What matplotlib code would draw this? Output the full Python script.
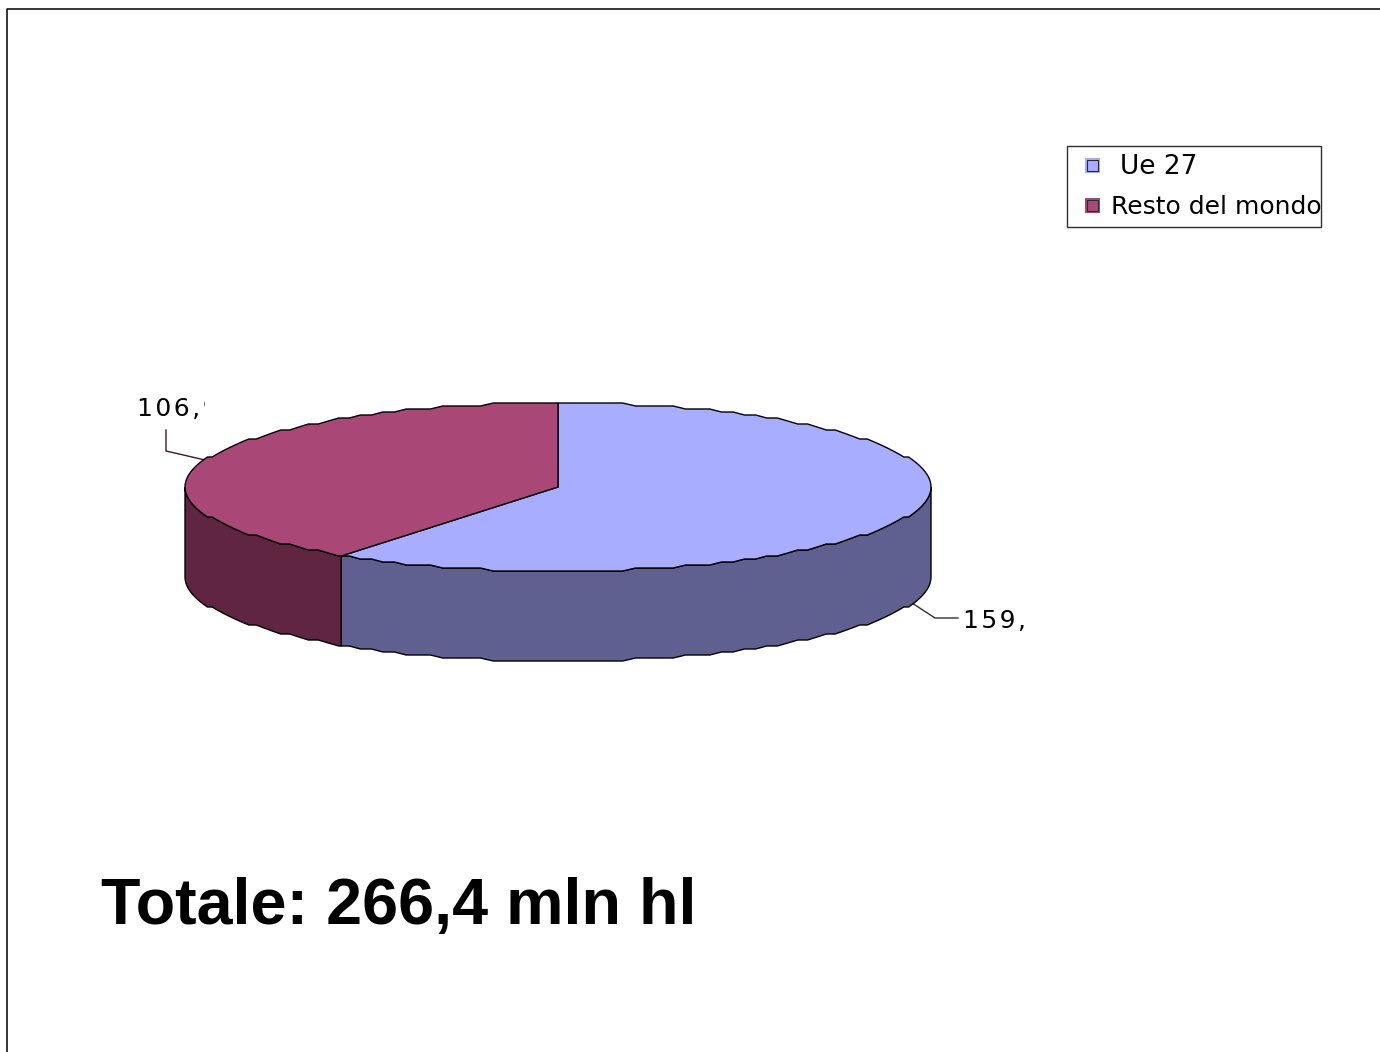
import numpy as np
import matplotlib
matplotlib.use("Agg")
import matplotlib.pyplot as plt
from matplotlib.patches import Polygon, Rectangle

categories = ["Ue 27", "Resto del mondo"]
values = [159.5, 106.9]
value_labels = ["159,5", "106,9"]
total_label = "Totale: 266,4 mln hl"

top_colors = ["#A9ADFF", "#A94876"]
side_colors = ["#606090", "#602540"]

W, H = 1380, 1052
CX, CY, RX, RY, DEPTH = 558, 487, 373, 84, 90
STEP = 2
GRID = 3  # the source pie has a slightly stepped outline


def rim(a0, a1, drop=0):
    # angles are degrees clockwise from 12 o'clock, sampled on a fixed grid
    # so the top face and the side walls share their outline
    lo, hi = min(a0, a1), max(a0, a1)
    inner = np.arange(np.ceil(lo / STEP), np.floor(hi / STEP) + 1) * STEP
    a = np.unique(np.concatenate([[lo], inner, [hi]]))
    if a0 > a1:
        a = a[::-1]
    t = np.radians(a)
    y = CY - RY * np.cos(t)
    y = np.round((y - CY) / GRID) * GRID + CY
    return np.column_stack([CX + RX * np.sin(t), y + drop])


def spaced(s):
    return "\u200a".join(s)


def clipped_text(x, y, s, xmax, size=18):
    t = ax.text(x, y, s, fontsize=size, family="DejaVu Sans", va="center", ha="left", zorder=6)
    t.set_clip_path(Rectangle((0, 0), xmax, H, transform=ax.transData))
    t.set_clip_on(True)
    return t


fig = plt.figure(figsize=(W / 100, H / 100), dpi=100)
ax = fig.add_axes([0, 0, 1, 1])
ax.set_xlim(0, W)
ax.set_ylim(H, 0)
ax.axis("off")

# page frame
ax.plot([6.5, 6.5, W], [H, 8.5, 8.5], color="black", lw=1.1)

angles = np.cumsum([0] + values) / sum(values) * 360

# side walls, only the front half of the rim shows
for i in range(len(values)):
    a0 = max(angles[i], 90)
    a1 = min(angles[i + 1], 270)
    if a1 > a0:
        pts = np.vstack([rim(a0, a1), rim(a1, a0, DEPTH)])
        ax.add_patch(Polygon(pts, closed=True, fc=side_colors[i], ec="black", lw=1.0, zorder=2))

# top face
for i in range(len(values)):
    pts = np.vstack([[CX, CY], rim(angles[i], angles[i + 1])])
    ax.add_patch(Polygon(pts, closed=True, fc=top_colors[i], ec="black", lw=1.0, zorder=3))

# data labels, clipped like the source
ax.plot([912, 935, 958], [603, 618, 618], color="#303030", lw=1.0, zorder=1)
ax.plot([205, 166, 166], [460, 451, 430], color="#401828", lw=1.0, zorder=1)
clipped_text(963, 621, spaced(value_labels[0]), 1029, size=18)
clipped_text(137, 409, spaced(value_labels[1]), 205, size=18)

# legend
ax.add_patch(Rectangle((1066.5, 146), 254, 81, fc="white", ec="#303030", lw=1.0, zorder=5))
legend_y = [165, 205]
legend_x = [1120, 1111]
legend_size = [19, 18]
for i, name in enumerate(categories):
    ax.add_patch(Rectangle((1084.5, legend_y[i] - 7.5), 15, 15, fc=top_colors[i], lw=0, zorder=5))
    ax.add_patch(Rectangle((1086.5, legend_y[i] - 5.5), 11, 11, fc=top_colors[i],
                           ec="#282838", lw=0.8, zorder=5))
    clipped_text(legend_x[i], legend_y[i] + 2, name, 1321, size=legend_size[i])

ax.text(101, 907, total_label, fontsize=46.5, fontweight="bold", family="Liberation Sans",
        va="center", ha="left")

fig.savefig("out.png", dpi=100)
